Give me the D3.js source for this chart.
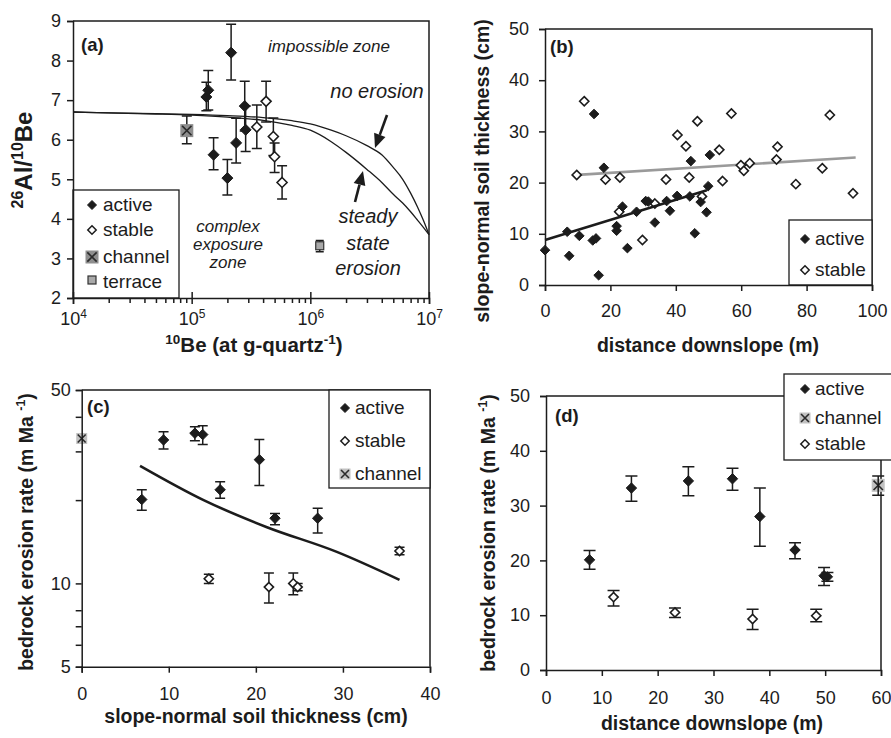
<!DOCTYPE html>
<html>
<head>
<meta charset="utf-8">
<script src="https://cdn.jsdelivr.net/npm/d3@7"></script>
<style>
  body { margin: 0; background: #fff; }
  svg { display: block; }
</style>
</head>
<body>
<svg id="chart" width="891" height="738"></svg>
<script>
// ---------- Panel (a): 26Al/10Be vs 10Be ----------
const aActiveBe    = [1.33e5, 1.38e5, 1.53e5, 2.15e5, 2.0e5, 2.37e5, 2.8e5, 2.85e5];
const aActiveRatio = [7.08, 7.25, 5.62, 8.20, 5.03, 5.92, 6.85, 6.25];
const aActiveHi    = [7.45, 7.75, 6.05, 8.92, 5.50, 6.54, 7.48, 6.85];
const aActiveLo    = [6.73, 6.75, 5.24, 7.51, 4.60, 5.41, 6.22, 5.70];
const aStableBe    = [4.24e5, 3.54e5, 4.88e5, 5.0e5, 5.78e5];
const aStableRatio = [6.97, 6.32, 6.08, 5.57, 4.92];
const aStableHi    = [7.48, 6.88, 6.55, 5.92, 5.34];
const aStableLo    = [6.45, 5.78, 5.60, 5.17, 4.50];
const aChannelBe = [9.1e4], aChannelRatio = [6.23], aChannelHi = [6.60], aChannelLo = [5.90];
const aTerraceBe = [1.2e6], aTerraceRatio = [3.32], aTerraceHi = [3.45], aTerraceLo = [3.17];
const curveBe        = [1e4, 2e4, 5e4, 1e5, 2e5, 4e5, 7e5, 1e6, 1.5e6, 2e6, 3e6, 4e6, 5e6, 6e6, 7e6, 8e6, 9e6, 1e7];
const noErosionRatio = [6.70, 6.68, 6.66, 6.64, 6.61, 6.56, 6.48, 6.40, 6.24, 6.10, 5.85, 5.62, 5.30, 5.00, 4.65, 4.30, 3.95, 3.60];
const steadyRatio    = [6.70, 6.68, 6.65, 6.62, 6.57, 6.49, 6.36, 6.24, 5.95, 5.68, 5.25, 4.92, 4.62, 4.40, 4.18, 3.97, 3.78, 3.60];
const aXTicks = [1e4, 1e5, 1e6, 1e7];
const aYTicks = [2, 3, 4, 5, 6, 7, 8, 9];

// ---------- Panel (b): soil thickness vs distance ----------
const bActiveDist = [0, 6.8, 7.4, 10.5, 14.6, 15.6, 15.0, 16.4, 18.0, 21.9, 21.9, 23.7, 25.2, 28.0, 30.8, 31.6, 33.6, 37.2, 38.2, 40.4, 44.3, 44.6, 45.8, 47.6, 49.4, 49.9, 50.4];
const bActiveSoil = [6.8, 10.4, 5.7, 9.6, 8.7, 9.1, 33.4, 1.9, 22.9, 11.5, 10.6, 15.3, 7.2, 14.3, 16.4, 16.3, 12.2, 16.4, 14.5, 17.4, 17.3, 24.2, 10.1, 16.2, 14.2, 19.3, 25.4];
const bStableDist = [9.7, 12.0, 18.5, 22.9, 22.7, 29.8, 33.6, 37.0, 40.5, 43.1, 44.1, 46.6, 48.0, 53.3, 54.3, 57.0, 59.9, 60.8, 62.6, 70.8, 71.1, 76.7, 84.8, 87.1, 94.2];
const bStableSoil = [21.5, 35.9, 20.6, 21.0, 14.3, 8.8, 15.9, 20.6, 29.3, 27.1, 21.0, 32.0, 17.3, 26.4, 20.3, 33.5, 23.4, 22.3, 23.8, 24.5, 27.0, 19.7, 22.8, 33.2, 17.9];
const bActiveFitDist = [0, 49.5], bActiveFitSoil = [8.8, 18.5];
const bStableFitDist = [10, 95],  bStableFitSoil = [21.5, 24.9];
const bXTicks = [0, 20, 40, 60, 80, 100];
const bYTicks = [0, 10, 20, 30, 40, 50];

// ---------- Panel (c): erosion rate vs soil thickness ----------
const cActiveSoil = [6.9, 9.4, 13.0, 13.9, 15.9, 20.4, 22.2, 27.1];
const cActiveRate = [20.1, 33.0, 34.9, 34.5, 21.8, 28.0, 17.2, 17.2];
const cActiveHi   = [21.8, 35.3, 36.8, 37.1, 23.3, 33.1, 17.9, 18.7];
const cActiveLo   = [18.4, 30.6, 32.8, 31.8, 20.3, 22.6, 16.3, 15.2];
const cStableSoil = [14.6, 21.5, 24.3, 24.8, 36.5];
const cStableRate = [10.4, 9.7, 10.0, 9.7, 13.1];
const cStableHi   = [10.8, 10.9, 10.9, 10.0, 13.5];
const cStableLo   = [10.0, 8.5, 9.1, 9.4, 12.7];
const cChannelSoil = [0], cChannelRate = [33.4];
const cFitSoil = [6.7, 14.0, 21.2, 29.3, 36.5];
const cFitRate = [26.6, 20.0, 16.0, 13.0, 10.3];
const cXTicks = [0, 10, 20, 30, 40];
const cYTicks = [5, 6, 7, 8, 10, 20, 30, 40, 50];
const cYLabels = [5, 10, 50];

// ---------- Panel (d): erosion rate vs distance ----------
const dActiveDist = [7.8, 15.3, 25.5, 33.4, 38.3, 44.6, 49.8, 50.4];
const dActiveRate = [20.1, 33.2, 34.5, 34.9, 28.0, 21.9, 17.2, 17.0];
const dActiveHi   = [21.8, 35.4, 37.1, 36.8, 33.2, 23.2, 18.7, 17.8];
const dActiveLo   = [18.4, 30.8, 31.8, 32.8, 22.6, 20.3, 15.4, 16.2];
const dStableDist = [12.1, 23.1, 37.0, 48.4];
const dStableRate = [13.3, 10.5, 9.3, 9.9];
const dStableHi   = [14.5, 11.3, 11.1, 11.1];
const dStableLo   = [11.7, 9.6, 7.4, 8.8];
const dChannelDist = [59.5], dChannelRate = [33.7], dChannelHi = [35.4], dChannelLo = [31.9];
const dXTicks = [0, 10, 20, 30, 40, 50, 60];
const dYTicks = [0, 10, 20, 30, 40, 50];

// ---------- shared helpers ----------
const FONT = '"Liberation Sans", Arial, Helvetica, sans-serif';
const INK = "#1c1c1c";
const svg = d3.select("#chart").attr("font-family", FONT);
svg.append("rect").attr("width", 891).attr("height", 738).attr("fill", "#fff");

const zip = (xs, ys) => xs.map((x, i) => [x, ys[i]]);
const diamond = r => `M0,${-r}L${r},0L0,${r}L${-r},0Z`;

function styleAxis(g, size) {
  g.attr("font-family", FONT).attr("font-size", size);
  g.select(".domain").attr("stroke", INK).attr("stroke-width", 1.5);
  g.selectAll(".tick line").attr("stroke", INK).attr("stroke-width", 1.5);
  g.selectAll(".tick text").attr("fill", INK);
}

function frame(x, y) {
  const [x0, x1] = x.range(), [y0, y1] = y.range();
  svg.append("path")
    .attr("d", `M${x0},${y1}H${x1}V${y0}`)
    .attr("fill", "none").attr("stroke", INK).attr("stroke-width", 1.5);
}

function errorBars(xs, his, los, x, y, cap) {
  svg.append("g").selectAll("path").data(xs.map((v, i) => ({ v, hi: his[i], lo: los[i] })))
    .join("path")
    .attr("d", d => {
      const X = x(d.v), H = y(d.hi), L = y(d.lo);
      return `M${X},${H}V${L}M${X - cap},${H}H${X + cap}M${X - cap},${L}H${X + cap}`;
    })
    .attr("fill", "none").attr("stroke", INK).attr("stroke-width", 1.5);
}

function diamonds(xs, ys, x, y, r, filled) {
  svg.append("g").selectAll("path").data(zip(xs, ys)).join("path")
    .attr("transform", d => `translate(${x(d[0])},${y(d[1])})`)
    .attr("d", diamond(r))
    .attr("fill", filled ? INK : "#fff")
    .attr("stroke", INK).attr("stroke-width", filled ? 1 : 1.6);
}

function channelMark(g, cx, cy, s, fill) {
  g.append("rect").attr("x", cx - s / 2).attr("y", cy - s / 2).attr("width", s).attr("height", s)
    .attr("fill", fill);
  const k = s * 0.36;
  g.append("path").attr("d", `M${cx - k},${cy - k}L${cx + k},${cy + k}M${cx - k},${cy + k}L${cx + k},${cy - k}`)
    .attr("stroke", "#2a2a2a").attr("stroke-width", 1.6);
}

function legendBox(x0, y0, x1, y1) {
  svg.append("rect").attr("x", x0).attr("y", y0).attr("width", x1 - x0).attr("height", y1 - y0)
    .attr("fill", "#fff").attr("stroke", INK).attr("stroke-width", 1.3);
}

function legendText(x, y, t) {
  svg.append("text").attr("x", x).attr("y", y).attr("font-size", 19).attr("fill", INK).text(t);
}

function legendDiamond(cx, cy, r, filled) {
  svg.append("path").attr("transform", `translate(${cx},${cy})`).attr("d", diamond(r))
    .attr("fill", filled ? INK : "#fff").attr("stroke", INK).attr("stroke-width", filled ? 1 : 1.5);
}

// rich text with superscripts: parts = [[text, isSup], ...]
function richText(sel, parts, size, supSize, shift) {
  let raised = false;
  parts.forEach(([t, sup]) => {
    const ts = sel.append("tspan").attr("font-size", sup ? supSize : size).text(t);
    if (sup && !raised) { ts.attr("dy", -shift); raised = true; }
    else if (!sup && raised) { ts.attr("dy", shift); raised = false; }
  });
}

function yTitle(cx, cy, parts, size = 19.5, supSize = 12.5, shift = 8) {
  const t = svg.append("text").attr("transform", `translate(${cx},${cy}) rotate(-90)`)
    .attr("text-anchor", "middle").attr("font-weight", "bold").attr("fill", INK);
  richText(t, parts, size, supSize, shift);
}

function xTitle(cx, cy, parts, size = 19.5, supSize = 12.5, shift = 8) {
  const t = svg.append("text").attr("x", cx).attr("y", cy)
    .attr("text-anchor", "middle").attr("font-weight", "bold").attr("fill", INK);
  richText(t, parts, size, supSize, shift);
}

function tag(x, y, t) {
  svg.append("text").attr("x", x).attr("y", y).attr("font-size", 18.5).attr("font-weight", "bold")
    .attr("fill", INK).text(t);
}

function arrow(x0, y0, x1, y1) {
  const a = Math.atan2(y1 - y0, x1 - x0), L = 14, W = 6;
  const bx = x1 - L * Math.cos(a), by = y1 - L * Math.sin(a);
  svg.append("line").attr("x1", x0).attr("y1", y0).attr("x2", bx).attr("y2", by)
    .attr("stroke", INK).attr("stroke-width", 2.6);
  const px = -Math.sin(a) * W, py = Math.cos(a) * W;
  svg.append("path").attr("d", `M${x1},${y1}L${bx + px},${by + py}L${bx - px},${by - py}Z`).attr("fill", INK);
}

// ================= Panel (a) =================
{
  const x = d3.scaleLog().domain([1e4, 1e7]).range([73, 429]);
  const y = d3.scaleLinear().domain([2, 9]).range([298, 21]);
  frame(x, y);

  const line = d3.line().x(d => x(d[0])).y(d => y(d[1])).curve(d3.curveMonotoneX);
  svg.append("path").attr("d", line(zip(curveBe, noErosionRatio)))
    .attr("fill", "none").attr("stroke", INK).attr("stroke-width", 1.3);
  svg.append("path").attr("d", line(zip(curveBe, steadyRatio)))
    .attr("fill", "none").attr("stroke", INK).attr("stroke-width", 1.3);

  errorBars(aChannelBe, aChannelHi, aChannelLo, x, y, 5);
  const gc = svg.append("g");
  aChannelBe.forEach((v, i) => channelMark(gc, x(v), y(aChannelRatio[i]), 13, "#8e8e8e"));

  errorBars(aActiveBe, aActiveHi, aActiveLo, x, y, 5);
  errorBars(aStableBe, aStableHi, aStableLo, x, y, 5);
  diamonds(aActiveBe, aActiveRatio, x, y, 5.5, true);
  diamonds(aStableBe, aStableRatio, x, y, 5, false);

  errorBars(aTerraceBe, aTerraceHi, aTerraceLo, x, y, 4);
  svg.append("g").selectAll("rect").data(zip(aTerraceBe, aTerraceRatio)).join("rect")
    .attr("x", d => x(d[0]) - 4).attr("y", d => y(d[1]) - 4).attr("width", 8).attr("height", 8)
    .attr("fill", "#a9a9a9").attr("stroke", "#333").attr("stroke-width", 1.2);

  // legend
  legendBox(73, 190, 179, 298);
  legendDiamond(92, 205, 4.5, true);   legendText(103, 211, "active");
  legendDiamond(92, 230, 4.2, false);  legendText(103, 236, "stable");
  channelMark(svg, 92, 257, 13, "#8e8e8e"); legendText(103, 263, "channel");
  svg.append("rect").attr("x", 88).attr("y", 276).attr("width", 8).attr("height", 8)
    .attr("fill", "#a9a9a9").attr("stroke", "#333").attr("stroke-width", 1.2);
  legendText(103, 288, "terrace");

  // axes
  const xa = svg.append("g").attr("transform", "translate(0,298)")
    .call(d3.axisBottom(x).tickValues(aXTicks).tickSize(6).tickPadding(8).tickFormat(() => ""));
  styleAxis(xa, 18);
  xa.selectAll(".tick line").attr("y1", -6);
  xa.selectAll(".tick text").each(function (d) {
    richText(d3.select(this), [["10", false], [String(Math.round(Math.log10(d))), true]], 18, 12, 7);
  });
  const minors = [];
  for (let e = 4; e < 7; e++) for (let m = 2; m <= 9; m++) minors.push(m * Math.pow(10, e));
  const xm = svg.append("g").attr("transform", "translate(0,298)")
    .call(d3.axisBottom(x).tickValues(minors).tickSize(5).tickFormat(() => ""));
  styleAxis(xm, 18);
  xm.select(".domain").remove();

  const ya = svg.append("g").attr("transform", "translate(73,0)")
    .call(d3.axisLeft(y).tickValues(aYTicks).tickSize(6).tickPadding(6).tickFormat(d3.format("d")));
  styleAxis(ya, 18);

  yTitle(32, 160, [["26", true], ["Al/", false], ["10", true], ["Be", false]], 24, 16, 9);
  xTitle(254, 352, [["10", true], ["Be (at g-quartz", false], ["-1", true], [")", false]], 20.5, 13.5, 8);
  tag(81, 51, "(a)");

  const ann = (tx, ty, t, size) => svg.append("text").attr("x", tx).attr("y", ty)
    .attr("text-anchor", "middle").attr("font-style", "italic").attr("font-size", size)
    .attr("fill", INK).text(t);
  ann(329, 52, "impossible zone", 17);
  ann(377, 98, "no erosion", 20);
  ann(368, 223, "steady", 20);
  ann(368, 250, "state", 20);
  ann(368, 275, "erosion", 20);
  ann(228, 232, "complex", 17);
  ann(228, 250, "exposure", 17);
  ann(228, 268, "zone", 17);
  arrow(387, 115, 375, 148);
  arrow(355, 202, 363, 171);
}

// ================= Panel (b) =================
{
  const x = d3.scaleLinear().domain([0, 100]).range([545, 872]);
  const y = d3.scaleLinear().domain([0, 50]).range([285, 29]);
  frame(x, y);

  const line = d3.line().x(d => x(d[0])).y(d => y(d[1]));
  svg.append("path").attr("d", line(zip(bStableFitDist, bStableFitSoil)))
    .attr("stroke", "#9a9a9a").attr("stroke-width", 2.6).attr("fill", "none");
  diamonds(bStableDist, bStableSoil, x, y, 4.6, false);
  diamonds(bActiveDist, bActiveSoil, x, y, 4.8, true);
  svg.append("path").attr("d", line(zip(bActiveFitDist, bActiveFitSoil)))
    .attr("stroke", INK).attr("stroke-width", 2.6).attr("fill", "none");

  legendBox(789, 220, 872, 285);
  legendDiamond(805, 239, 4.5, true);  legendText(815, 245, "active");
  legendDiamond(805, 270, 4.2, false); legendText(815, 276, "stable");

  const xa = svg.append("g").attr("transform", "translate(0,285)")
    .call(d3.axisBottom(x).tickValues(bXTicks).tickSize(6).tickPadding(13));
  styleAxis(xa, 18);
  const ya = svg.append("g").attr("transform", "translate(545,0)")
    .call(d3.axisLeft(y).tickValues(bYTicks).tickSize(6).tickPadding(10));
  styleAxis(ya, 18);

  yTitle(489, 171, [["slope-normal soil thickness (cm)", false]]);
  xTitle(708, 352, [["distance downslope (m)", false]]);
  tag(550, 53, "(b)");
}

// ================= Panel (c) =================
{
  const x = d3.scaleLinear().domain([0, 40]).range([81.7, 430]);
  const y = d3.scaleLog().domain([5, 50]).range([666.7, 390]);
  frame(x, y);

  const line = d3.line().x(d => x(d[0])).y(d => y(d[1])).curve(d3.curveMonotoneX);
  svg.append("path").attr("d", line(zip(cFitSoil, cFitRate)))
    .attr("stroke", INK).attr("stroke-width", 2.6).attr("fill", "none");

  errorBars(cActiveSoil, cActiveHi, cActiveLo, x, y, 5);
  errorBars(cStableSoil, cStableHi, cStableLo, x, y, 5);
  diamonds(cActiveSoil, cActiveRate, x, y, 5.2, true);
  diamonds(cStableSoil, cStableRate, x, y, 4.6, false);

  const gc = svg.append("g");
  cChannelSoil.forEach((v, i) => channelMark(gc, x(v), y(cChannelRate[i]), 11, "#c2c2c2"));

  legendBox(329, 390, 430, 488);
  legendDiamond(345, 408, 4.5, true);  legendText(355, 414, "active");
  legendDiamond(345, 441, 4.2, false); legendText(355, 447, "stable");
  channelMark(svg, 345, 474, 11, "#c2c2c2"); legendText(355, 480, "channel");

  const xa = svg.append("g").attr("transform", "translate(0,666.7)")
    .call(d3.axisBottom(x).tickValues(cXTicks).tickSize(6).tickPadding(15));
  styleAxis(xa, 18);
  const ya = svg.append("g").attr("transform", "translate(81.7,0)")
    .call(d3.axisLeft(y).tickValues(cYTicks).tickSize(6).tickPadding(5)
      .tickFormat(d => cYLabels.includes(d) ? String(d) : ""));
  styleAxis(ya, 18);

  yTitle(33, 532, [["bedrock erosion rate (m Ma ", false], ["-1", true], [")", false]]);
  xTitle(256, 723, [["slope-normal soil thickness (cm)", false]]);
  tag(87, 413, "(c)");
}

// ================= Panel (d) =================
{
  const x = d3.scaleLinear().domain([0, 60]).range([546, 881]);
  const y = d3.scaleLinear().domain([0, 50]).range([670, 396]);
  frame(x, y);

  errorBars(dActiveDist, dActiveHi, dActiveLo, x, y, 6);
  errorBars(dStableDist, dStableHi, dStableLo, x, y, 6);
  diamonds(dActiveDist, dActiveRate, x, y, 5.2, true);
  diamonds(dStableDist, dStableRate, x, y, 4.6, false);

  const gc = svg.append("g");
  dChannelDist.forEach((v, i) => channelMark(gc, x(v), y(dChannelRate[i]), 13, "#c2c2c2"));
  errorBars(dChannelDist, dChannelHi, dChannelLo, x, y, 6);

  const xa = svg.append("g").attr("transform", "translate(0,670)")
    .call(d3.axisBottom(x).tickValues(dXTicks).tickSize(6).tickPadding(15));
  styleAxis(xa, 18);
  const ya = svg.append("g").attr("transform", "translate(546,0)")
    .call(d3.axisLeft(y).tickValues(dYTicks).tickSize(6).tickPadding(10));
  styleAxis(ya, 18);

  legendBox(784, 374, 905, 460);
  legendDiamond(805, 389, 4.5, true);  legendText(815, 395, "active");
  channelMark(svg, 805, 418, 11, "#c2c2c2"); legendText(815, 424, "channel");
  legendDiamond(805, 444, 4.2, false); legendText(815, 450, "stable");

  yTitle(495, 533, [["bedrock erosion rate (m Ma ", false], ["-1", true], [")", false]]);
  xTitle(712, 730, [["distance downslope (m)", false]]);
  tag(555, 422, "(d)");
}
</script>
</body>
</html>
